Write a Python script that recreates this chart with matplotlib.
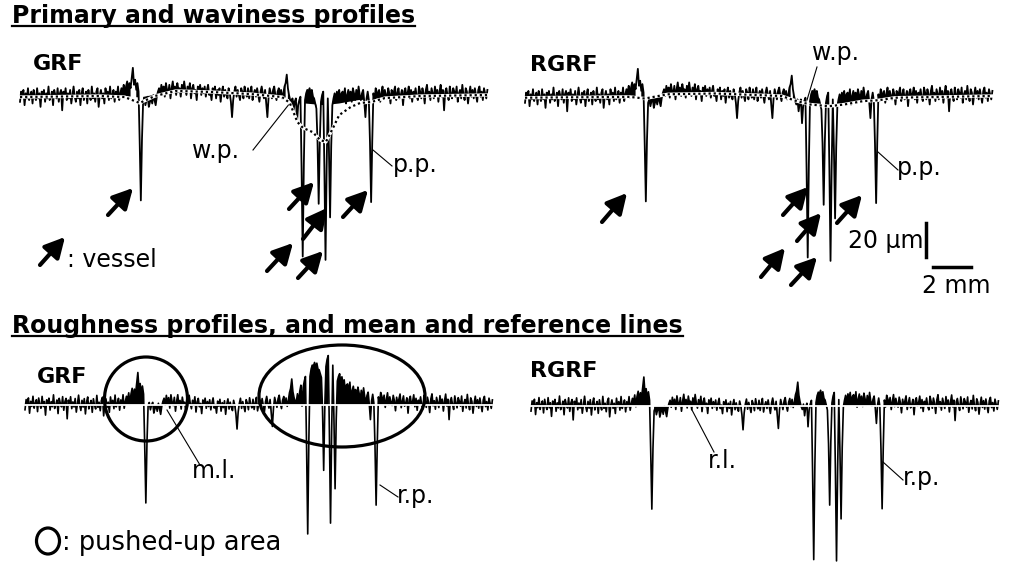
import numpy as np
import matplotlib
matplotlib.use("Agg")
import matplotlib.pyplot as plt
from matplotlib.patches import Ellipse
from matplotlib.transforms import Affine2D

plt.rcParams["font.family"] = ["DejaVu Sans"]

# primary profile: height in um, sampled every STEP_MM
STEP_MM = 0.06
primary = [
    -4, 2, -1, 3, -6, 1, -2, 4, -3, 0, 2, -5, 3, -1, -3, 4, -2, 1, -7, 2,
    0, 3, -4, 1, -2, 5, -3, -1, 2, -6, 3, 0, -2, 4, -4, 1, 3, -9, 2, -1,
    4, -3, 1, -2, 3, -5, 0, 5, -1, -4, 2, -2, 3, -6, 1, 4, -3, 0, 2, -5,
    3, -1, -3, 5, -2, 1, -4, 2, 4, -7, 0, 3, -2, 1, -5, 4, -1, 2, -3, 5,
    -2, 0, 3, -4, 2, -1, 5, -3, 1, 4, 2, 6, -1, 5, 8, 3, 7, 4, 10, 16,
    6, 9, 3, 7, 2, -28, -62, -26, -4, -2, -6, -3, -1, -7, -4, -2, -5, 0, -3, -6,
    -1, 2, 4, 0, 6, 2, 5, -1, 7, 3, 1, 6, -2, 4, 8, 2, 5, 0, 7, 3,
    4, -1, 6, 2, 8, 3, 0, 5, 2, 7, -2, 4, 6, 1, 3, -3, 5, 2, 6, 0,
    4, 1, 5, -1, 3, 6, 0, 2, -3, 4, 1, 5, -2, 3, 0, 4, -4, 2, 5, -1,
    3, 0, -2, 4, 1, -4, -13, -3, 2, 5, -1, 3, 0, -3, 4, 2, -2, 5, 1, -1,
    4, -2, 2, 5, -3, 1, 3, -1, 4, 0, -4, 2, 5, 1, -2, 3, -5, -13, -2, 4,
    1, -2, 3, 5, 0, -3, 2, 4, -1, 3, -2, 1, 5, 7, 12, 4, 0, -3, -5, -2,
    -9, -4, -2, -16, -6, -3, -1, -43, -95, -40, -3, 1, 3, 2, 4, 1, 3, -1, -2, -5,
    -8, -28, -64, -27, -4, 0, 2, -43, -97, -42, -2, -32, -72, -30, -6, -2, 1, -3, 2, -1,
    3, -4, 1, 2, -2, 4, -5, 0, 3, -1, 2, -4, 4, 1, -3, 3, -2, 5, 0, -3,
    1, 3, -4, -13, -2, 2, -3, -28, -63, -27, 1, -3, 4, 2, -1, 3, -4, 1, 5, -2,
    3, 0, -2, 4, 1, -5, 3, -1, 2, 5, -3, 1, 4, -2, 0, 3, -6, 2, 4, -1,
    1, 5, -2, 3, -4, 2, 0, 4, -1, -3, 5, 2, -2, 4, 1, -5, 3, 6, -1, 2,
    -3, 4, 1, -2, 5, 0, 3, -4, 2, 6, -1, 3, -9, 2, 4, 0, -3, 5, 1, -2,
    4, 2, -1, 5, -4, 1, 3, -2, 6, 0, -3, 4, 2, -5, 1, 5, -1, 3, -2, 4,
    0, -4, 3, 5, -1, 2, -3, 4, 1, -2, 3,
]
x_mm = np.arange(len(primary)) * STEP_MM

# waviness profiles (filter outputs), knots in mm / um
grf_wav_x = [0, 4.2, 5.5, 6.3, 7.1, 8.2, 10.0, 12.1, 13.8, 14.2, 14.6, 14.9, 15.4,
             15.8, 16.1, 16.5, 16.8, 17.4, 17.9, 18.5, 19.2, 21.1, 24.6]
grf_wav_y = [-1.2, -0.6, -1.2, -4.7, -0.6, 2.4, 1.8, 0.6, -1.2, -4.7, -15.9, -19.4, -21.8,
             -26.5, -27.6, -18.8, -11.8, -7.1, -4.7, -4.1, -1.8, -0.6, 0]
rgrf_wav_x = [0, 5.5, 6.3, 7.5, 10.0, 13.5, 14.3, 15.0, 16.0, 16.8, 17.8, 18.6, 19.5, 24.6]
rgrf_wav_y = [-1, -0.5, -1.5, 1, 1.5, 0, -3, -5, -6, -5, -3, -2.5, -1, 0]

prim = np.array(primary, dtype=float)
grf_wav = np.interp(x_mm, grf_wav_x, grf_wav_y)
rgrf_wav = np.interp(x_mm, rgrf_wav_x, rgrf_wav_y)
grf_rough = prim - grf_wav
rgrf_rough = prim - rgrf_wav

PX_MM = 19.0
PX_UM = 1.7

fig = plt.figure(figsize=(10.1, 5.65), dpi=100)
ax = fig.add_axes([0, 0, 1, 1])
ax.set_xlim(0, 1010)
ax.set_ylim(565, 0)
ax.axis("off")


def panel(x0, y0):
    return Affine2D().scale(PX_MM, -PX_UM).translate(x0, y0) + ax.transData


def primary_panel(x0, y0, wx, wy):
    tf = panel(x0, y0)
    # shade the fine texture, keep the deep pits as outlines
    ax.fill_between(x_mm, rgrf_wav, prim, where=np.abs(prim - rgrf_wav) <= 10,
                    color="black", lw=0, transform=tf)
    ax.plot(x_mm, prim, color="black", lw=1.3, transform=tf)
    ax.plot(wx, wy, color="white", lw=2.4, transform=tf, zorder=3)
    ax.plot(wx, wy, color="black", lw=1.6, ls=(0, (1, 1.3)), transform=tf, zorder=4)


def rough_panel(x0, y0, rough):
    tf = panel(x0, y0)
    ax.fill_between(x_mm, 0, rough, where=rough > -10, color="black", lw=0, transform=tf)
    ax.plot(x_mm, rough, color="black", lw=1.2, transform=tf)
    ax.plot([0, x_mm[-1]], [0, 0], color="white", lw=1.3, transform=tf)


primary_panel(20, 95, grf_wav_x, grf_wav_y)
primary_panel(525, 96, rgrf_wav_x, rgrf_wav_y)
rough_panel(25, 405, grf_rough)
rough_panel(531, 406, rgrf_rough)

# titles
titles = []
titles.append(ax.text(12, 23, "Primary and waviness profiles", fontsize=17,
                      fontweight="bold", va="baseline"))
titles.append(ax.text(12, 333, "Roughness profiles, and mean and reference lines",
                      fontsize=17, fontweight="bold", va="baseline"))
for x, y, s in [(33, 70, "GRF"), (530, 71, "RGRF"), (37, 383, "GRF"), (530, 377, "RGRF")]:
    ax.text(x, y, s, fontsize=16, fontweight="bold", va="baseline")

labels = [
    (192, 158, "w.p."), (393, 172, "p.p."), (812, 60, "w.p."), (897, 175, "p.p."),
    (67, 267, ": vessel"), (848, 248, "20 µm"), (922, 293, "2 mm"),
    (192, 478, "m.l."), (397, 503, "r.p."), (708, 468, "r.l."), (903, 485, "r.p."),
]
for x, y, s in labels:
    ax.text(x, y, s, fontsize=17, va="baseline")
ax.text(62, 550, ": pushed-up area", fontsize=18.5, va="baseline")

leaders = [
    ((253, 150), (290, 103)), ((373, 150), (392, 166)),
    ((817, 67), (807, 100)), ((878, 152), (898, 170)),
    ((200, 465), (167, 410)), ((380, 485), (398, 497)),
    ((714, 452), (692, 410)), ((883, 462), (903, 480)),
]
for (xa, ya), (xb, yb) in leaders:
    ax.plot([xa, xb], [ya, yb], color="black", lw=0.8)

# vessel arrows (tail, tip)
arrows = [
    ((108, 215), (133, 188)), ((40, 265), (65, 237)),
    ((289, 209), (314, 182)), ((303, 239), (327, 208)), ((343, 217), (368, 190)),
    ((267, 271), (293, 243)), ((298, 278), (323, 251)),
    ((602, 222), (627, 193)), ((783, 215), (808, 187)), ((797, 241), (821, 213)),
    ((837, 223), (862, 195)), ((761, 277), (785, 248)), ((791, 285), (817, 257)),
]
for tail, tip in arrows:
    ax.annotate("", xy=tip, xytext=tail,
                arrowprops=dict(arrowstyle="-|>,head_length=0.8,head_width=0.42",
                                lw=3.0, color="black", shrinkA=0, shrinkB=0,
                                mutation_scale=15))

# scale bars
ax.plot([926, 926], [223, 223 + 20 * PX_UM], color="black", lw=2.5)
ax.plot([933, 933 + 2 * PX_MM], [267, 267], color="black", lw=2.5)

# pushed-up areas
for cx, cy, w, h in [(146, 399, 83, 84), (342, 396, 166, 102), (48, 541, 23, 26)]:
    ax.add_patch(Ellipse((cx, cy), w, h, fill=False, ec="black", lw=2.3, zorder=5))

# underline titles
fig.canvas.draw()
inv = ax.transData.inverted()
for t in titles:
    bb = t.get_window_extent()
    (x0, _), (x1, _) = inv.transform([(bb.x0, 0), (bb.x1, 0)])
    y = t.get_position()[1] + 3
    ax.plot([x0, x1], [y, y], color="black", lw=1.6)

fig.savefig("out.png", dpi=100)
